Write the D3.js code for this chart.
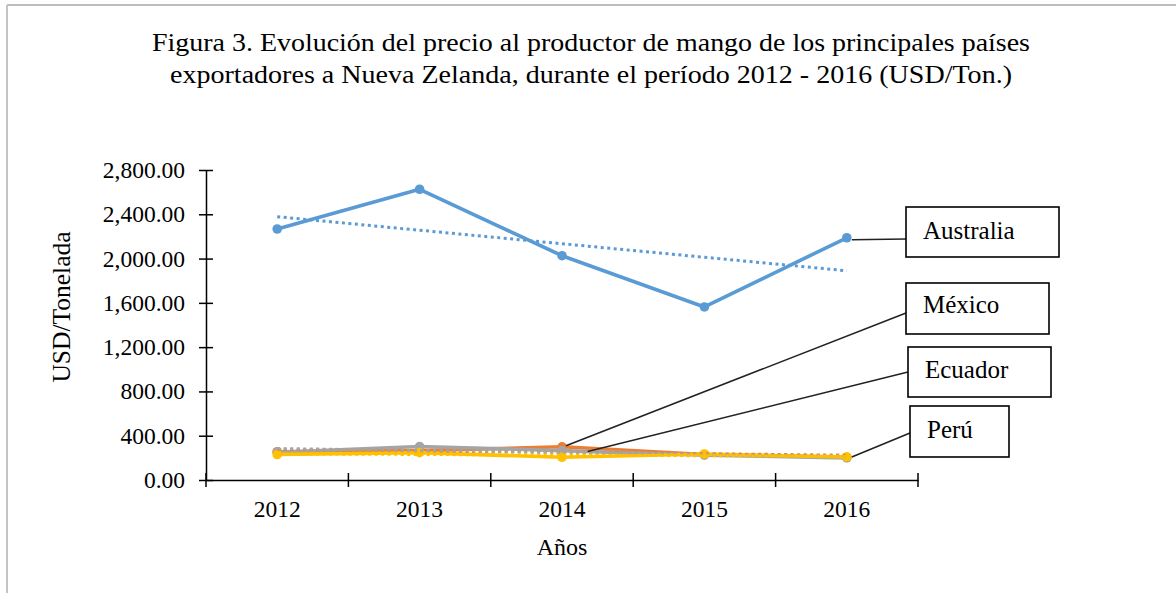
<!DOCTYPE html>
<html><head><meta charset="utf-8">
<script src="https://cdn.jsdelivr.net/npm/d3@7"></script>
<style>
body{margin:0;background:#fff;}
svg text{font-family:"Liberation Serif","Times New Roman",serif;fill:#000;}
</style></head>
<body><svg id="c" width="1176" height="593"></svg>
<script>
const years = ["2012","2013","2014","2015","2016"];
const australia = [2267, 2626, 2026, 1563, 2188];
const mexico    = [255, 265, 300, 230, 205];
const ecuador   = [250, 303, 265, 225, 200];
const peru      = [230, 247, 205, 235, 208];
const seriesNames = ["Australia","México","Ecuador","Perú"];
const seriesColors = ["#5B9BD5","#ED7D31","#A5A5A5","#FFC000"];
const yTicks = [0,400,800,1200,1600,2000,2400,2800];
const titleLines = ["Figura 3. Evolución del precio al productor de mango de los principales países",
                    "exportadores a Nueva Zelanda, durante el período 2012 - 2016 (USD/Ton.)"];
const xTitle = "Años", yTitle = "USD/Tonelada";

const svg = d3.select("#c");
svg.append("rect").attr("width",1176).attr("height",593).attr("fill","#fff");
// frame
svg.append("line").attr("x1",7).attr("x2",1176).attr("y1",5).attr("y2",5).attr("stroke","#bdbdbd").attr("stroke-width",2);
svg.append("line").attr("x1",7).attr("x2",7).attr("y1",5).attr("y2",593).attr("stroke","#c4c4c4").attr("stroke-width",2);

// title
const titleW = [878, 842];
svg.selectAll(".title").data(titleLines).enter().append("text")
  .attr("x",591).attr("y",(d,i)=>51+i*32).attr("text-anchor","middle")
  .attr("textLength",(d,i)=>titleW[i]).attr("lengthAdjust","spacingAndGlyphs")
  .style("font-size","26px").text(d=>d);

const x = d3.scaleBand().domain(years).range([206,918]).padding(0);
const y = d3.scaleLinear().domain([0,2800]).range([480,170]);
const cx = d => x(d)+x.bandwidth()/2;

// y axis
const gy = svg.append("g").attr("transform","translate(206,0)")
  .call(d3.axisLeft(y).tickValues(yTicks).tickFormat(d3.format(",.2f")).tickSizeOuter(0));
gy.select(".domain").attr("stroke","#000").attr("stroke-width",1.5);
gy.selectAll(".tick line").attr("x1",-7).attr("x2",7).attr("stroke","#000").attr("stroke-width",1.5);
gy.selectAll(".tick text").attr("x",-21).style("font-size","23.5px").style("font-family","Liberation Serif, serif");

// x axis
const gx = svg.append("g").attr("transform","translate(0,480)")
  .call(d3.axisBottom(x).tickSize(0).tickSizeOuter(0));
gx.select(".domain").attr("stroke","#000").attr("stroke-width",1.5);
gx.selectAll(".tick text").attr("y",20).style("font-size","23.5px").style("font-family","Liberation Serif, serif");
const edges = years.map(d=>x(d)).concat([x.range()[1]]);
gx.selectAll(".edge").data(edges).enter().append("line")
  .attr("x1",d=>d).attr("x2",d=>d).attr("y1",-7).attr("y2",7).attr("stroke","#000").attr("stroke-width",1.5);

// axis titles
svg.append("text").attr("x",562).attr("y",555).attr("text-anchor","middle").style("font-size","24px").text(xTitle);
svg.append("text").attr("transform","translate(70,307) rotate(-90)").attr("text-anchor","middle").style("font-size","25.5px").text(yTitle);

// series
const allSeries = [australia, mexico, ecuador, peru];
const line = d3.line().x((d,i)=>cx(years[i])).y(d=>y(d));
function trend(vals){
  const n=vals.length, xs=vals.map((v,i)=>i);
  const mx=d3.mean(xs), my=d3.mean(vals);
  const b=d3.sum(xs.map((xi,i)=>(xi-mx)*(vals[i]-my)))/d3.sum(xs.map(xi=>(xi-mx)**2));
  const a=my-b*mx;
  return [a, a+b*(n-1)];
}
allSeries.forEach((vals,k)=>{
  const g = svg.append("g");
  g.append("path").datum(vals).attr("d",line).attr("fill","none")
    .attr("stroke",seriesColors[k]).attr("stroke-width",3.6).attr("stroke-linejoin","round");
  g.selectAll("circle").data(vals).enter().append("circle")
    .attr("cx",(d,i)=>cx(years[i])).attr("cy",d=>y(d)).attr("r",4.8).attr("fill",seriesColors[k]);
});
allSeries.forEach((vals,k)=>{
  const t = trend(vals);
  svg.append("line").attr("x1",cx(years[0])).attr("x2",cx(years[years.length-1]))
    .attr("y1",y(t[0])).attr("y2",y(t[1])).attr("stroke",seriesColors[k])
    .attr("stroke-width",3).attr("stroke-dasharray","3,3.5");
});

// callouts
const boxes = [
  {name:seriesNames[0], x:906, y:207, w:153, h:50, tx:923, ty:239, px:cx("2016")+5, py:y(australia[4])+2, ax:906, ay:239},
  {name:seriesNames[1], x:906, y:283, w:143, h:51, tx:923, ty:313, px:cx("2014")+4, py:y(mexico[2])-1, ax:906, ay:313},
  {name:seriesNames[2], x:908, y:347, w:143, h:50, tx:925, ty:378,
     px:cx("2014")+0.18*x.step(), py:y(ecuador[2]+0.18*(ecuador[3]-ecuador[2])), ax:908, ay:372},
  {name:seriesNames[3], x:910, y:406, w:99, h:51, tx:927, ty:438, px:cx("2016")+5, py:y(peru[4]), ax:910, ay:433}
];
boxes.forEach(b=>{
  svg.append("line").attr("x1",b.px).attr("y1",b.py).attr("x2",b.ax).attr("y2",b.ay)
    .attr("stroke","#222").attr("stroke-width",1.6);
  svg.append("rect").attr("x",b.x).attr("y",b.y).attr("width",b.w).attr("height",b.h)
    .attr("fill","#fff").attr("stroke","#000").attr("stroke-width",1.6);
  svg.append("text").attr("x",b.tx).attr("y",b.ty).style("font-size","25px").text(b.name);
});
</script></body></html>
